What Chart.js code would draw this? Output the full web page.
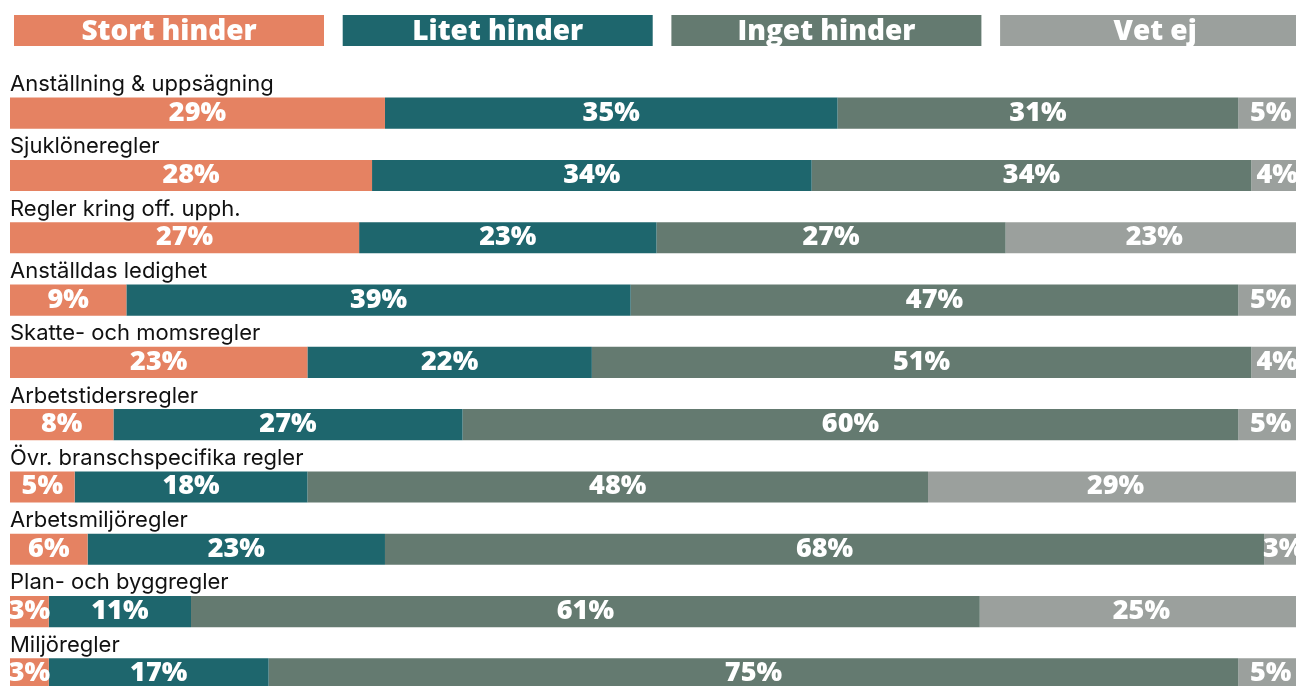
<!DOCTYPE html>
<html>
<head>
<meta charset="utf-8">
<script src="https://cdn.jsdelivr.net/npm/chart.js@4/dist/chart.umd.min.js"></script>
<style>
  html, body { margin: 0; padding: 0; background: #ffffff; overflow: hidden; }
  #wrap { position: relative; width: 1303px; height: 705px; }
</style>
</head>
<body>
<div id="wrap"><canvas id="chart"></canvas></div>
<script>
// Categories (one bar each), top to bottom
const categories = [
  'Anställning & uppsägning',
  'Sjuklöneregler',
  'Regler kring off. upph.',
  'Anställdas ledighet',
  'Skatte- och momsregler',
  'Arbetstidersregler',
  'Övr. branschspecifika regler',
  'Arbetsmiljöregler',
  'Plan- och byggregler',
  'Miljöregler'
];

// Series names, in stacking order
const seriesNames = ['Stort hinder', 'Litet hinder', 'Inget hinder', 'Vet ej'];

// Shares in percent per category
const stortHinder = [29, 28, 27, 9, 23, 8, 5, 6, 3, 3];
const litetHinder = [35, 34, 23, 39, 22, 27, 18, 23, 11, 17];
const ingetHinder = [31, 34, 27, 47, 51, 60, 48, 68, 61, 75];
const vetEj       = [5, 4, 23, 5, 4, 5, 29, 3, 25, 5];

const seriesColors = ['#E58262', '#1E666D', '#647A70', '#9BA09D'];

const seriesValues = [stortHinder, litetHinder, ingetHinder, vetEj];

// Legend: a row of filled boxes with the series name inside
const boxLegend = {
  id: 'boxLegend',
  afterDraw(chart) {
    const ctx = chart.ctx;
    const left = 14, step = 328.7, w = 310, top = 15, h = 31;
    ctx.save();
    ctx.font = '800 28px "Open Sans"';
    ctx.textAlign = 'center';
    ctx.textBaseline = 'alphabetic';
    seriesNames.forEach((name, i) => {
      const x = left + i * step;
      ctx.fillStyle = seriesColors[i];
      ctx.fillRect(x, top, w, h);
      ctx.fillStyle = '#ffffff';
      ctx.fillText(name, x + w / 2, top + 25);
    });
    ctx.restore();
  }
};

// Category names written just above each bar
const categoryTitles = {
  id: 'categoryTitles',
  afterDatasetsDraw(chart) {
    const ctx = chart.ctx;
    const meta = chart.getDatasetMeta(0);
    ctx.save();
    ctx.font = '400 22px Inter';
    ctx.fillStyle = '#111111';
    ctx.textAlign = 'left';
    ctx.textBaseline = 'alphabetic';
    meta.data.forEach((bar, i) => {
      const { y, height } = bar.getProps(['y', 'height'], true);
      ctx.fillText(categories[i], chart.chartArea.left, y - height / 2 - 6.5);
    });
    ctx.restore();
  }
};

// Percent labels centred in each segment
const segmentLabels = {
  id: 'segmentLabels',
  afterDatasetsDraw(chart) {
    const ctx = chart.ctx;
    ctx.save();
    ctx.font = '800 27px "Open Sans"';
    ctx.fillStyle = '#ffffff';
    ctx.textAlign = 'center';
    ctx.textBaseline = 'alphabetic';
    chart.data.datasets.forEach((ds, di) => {
      chart.getDatasetMeta(di).data.forEach((bar, i) => {
        const { x, base, y } = bar.getProps(['x', 'base', 'y'], true);
        ctx.fillText(ds.data[i] + '%', (x + base) / 2, y + 7.5);
      });
    });
    ctx.restore();
  }
};

new Chart(document.getElementById('chart'), {
  type: 'bar',
  data: {
    labels: categories,
    datasets: seriesNames.map((name, i) => ({
      label: name,
      data: seriesValues[i],
      backgroundColor: seriesColors[i],
      borderWidth: 0,
      barPercentage: 1,
      categoryPercentage: 0.5
    }))
  },
  options: {
    indexAxis: 'y',
    responsive: true,
    maintainAspectRatio: false,
    animation: false,
    layout: { padding: { top: 82, left: 10, right: 0, bottom: 0 } },
    scales: {
      x: { stacked: true, min: 0, max: 100, display: false },
      y: { stacked: true, display: false }
    },
    plugins: {
      legend: { display: false },
      tooltip: { enabled: false }
    }
  },
  plugins: [boxLegend, categoryTitles, segmentLabels]
});
</script>
</body>
</html>
